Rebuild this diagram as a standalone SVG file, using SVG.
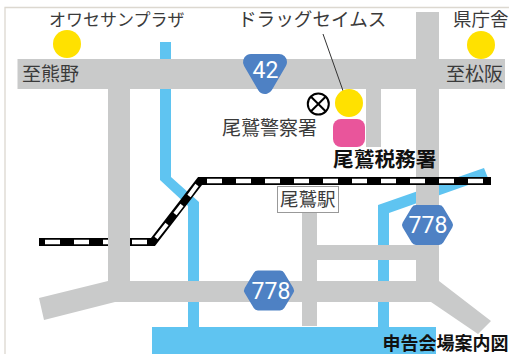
<svg xmlns="http://www.w3.org/2000/svg" width="509" height="354" viewBox="0 0 509 354">
<style>
text{font-family:"Noto Sans CJK JP","Noto Sans",sans-serif;fill:#3a3a3a;font-size:17px}
.b{font-weight:700;fill:#111}
.road{fill:#c9caca}
.river{fill:#5fc4f1}
.poi{fill:#ffe100}
.shield{fill:#4e81c4;stroke:#4e81c4;stroke-linejoin:round}
.num{font-family:"Roboto","Liberation Sans",sans-serif;fill:#fff;font-size:23px;text-anchor:middle}
.rb{fill:none;stroke:#000;stroke-width:8}
.rw{fill:none;stroke:#fff;stroke-width:4.6;stroke-dasharray:15 14}
.rd{fill:none;stroke:#fff;stroke-width:4}
</style>
<rect width="509" height="354" fill="#fff"/>
<path d="M5 354V7.500H509" fill="none" stroke="#dcd8d0" stroke-width="1.300"/>
<g id="connectors">
<path class="river" d="M160 42H171V177L199 202V327H188V206L160 180Z"/>
<path class="river" d="M378 327V205L484 168L488 178L389 213V327Z"/>
<path class="rb" d="M39 242H153L200 181H491"/>
<path class="rw" d="M45 242H150"/>
<path class="rd" d="M156 238L167 224M175 214L182 205M189 196L197 185"/>
<path class="road" d="M17.500 59H505V89H17.500Z"/>
<path class="road" d="M108 89H130V281H108Z"/>
<path class="road" d="M416 12H439V185H416Z"/>
<path class="road" d="M416 185H439V281L491 321L478 334L431 302H115L44 320L39 298L108 281H416Z"/>
<path class="road" d="M366 89H381V147H366Z"/>
<path class="road" d="M302 205H317V245H416V260H317V326H302Z"/>
<rect class="river" x="152" y="327" width="284" height="27"/>
<path class="rb" d="M200 181H491"/>
<path class="rw" d="M207 181H491"/>
<path d="M323 34L347 102" stroke="#333" stroke-width="1" fill="none"/>
</g>
<g id="road42"><path class="shield" stroke-width="16" d="M251 62H279L265 86Z"/><text class="num" x="265.500" y="78">42</text></g>
<g id="road778a"><path class="shield" stroke-width="10" d="M416 210H439L448 225L439 240H416L407 225Z"/><text class="num" x="428" y="233">778</text></g>
<g id="road778b"><path class="shield" stroke-width="10" d="M258 275.500H280L289 290.500L280 305.500H258L249 290.500Z"/><text class="num" x="271" y="299">778</text></g>
<g id="owase"><circle class="poi" cx="67" cy="44" r="14"/><text x="49" y="26">オワセサンプラザ</text></g>
<g id="drug"><circle class="poi" cx="349" cy="103" r="14"/><text x="238" y="26" style="font-size:18.600px">ドラッグセイムス</text></g>
<g id="kencho"><circle class="poi" cx="481" cy="45" r="14"/><text x="453" y="26" style="font-size:18.500px">県庁舎</text></g>
<g id="police"><circle cx="318.300" cy="104" r="10.500" fill="#fff" stroke="#000" stroke-width="2"/><path d="M311 96.700L325.600 111.300M325.600 96.700L311 111.300" stroke="#000" stroke-width="2"/><text x="222" y="135" style="font-size:19px">尾鷲警察署</text></g>
<g id="tax"><rect x="333" y="119" width="32" height="28" rx="8" fill="#e9559b"/><text class="b" x="333" y="167" style="font-size:20.700px">尾鷲税務署</text></g>
<g id="station"><rect x="277.500" y="186.500" width="61" height="26" fill="#fff" stroke="#999"/><text x="280" y="206" style="font-size:18.500px">尾鷲駅</text></g>
<g id="kumano"><text x="22" y="81" style="font-size:19px">至熊野</text></g>
<g id="matsusaka"><text x="446" y="81" style="font-size:19px">至松阪</text></g>
<g id="guide"><text class="b" x="382.500" y="350" style="font-size:18px">申告会場案内図</text></g>
</svg>
